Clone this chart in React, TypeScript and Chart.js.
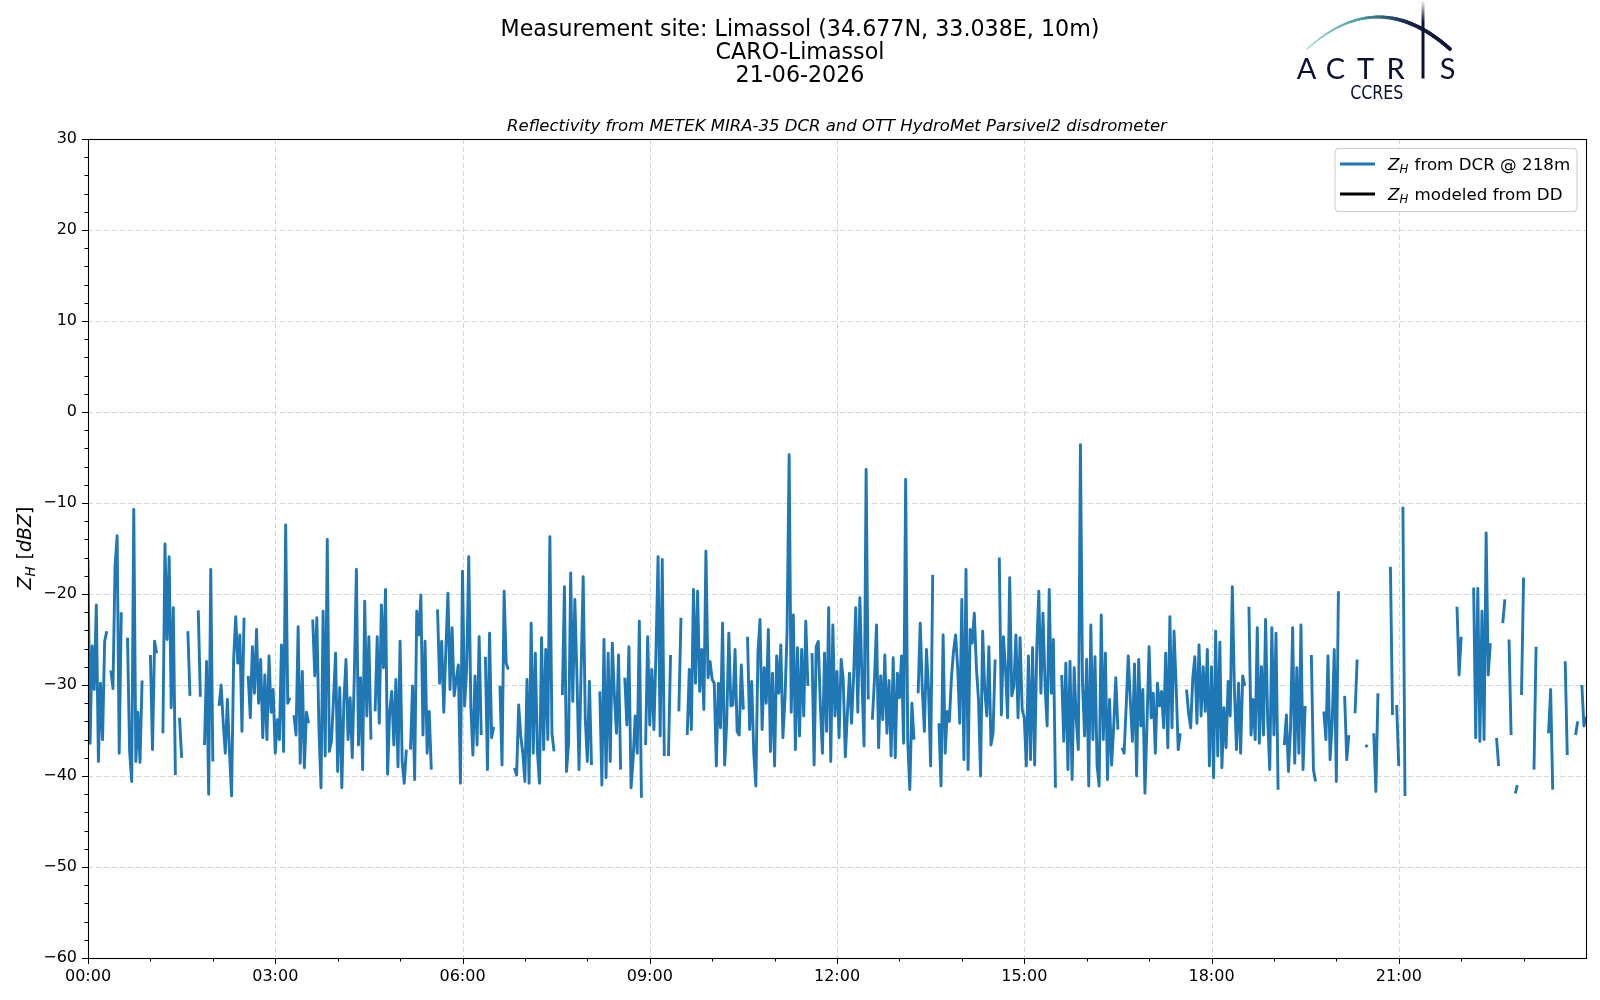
import { useEffect, useRef } from "react";
import { Chart, registerables } from "chart.js";

Chart.register(...registerables);

const TITLE_LINES = ["Measurement site: Limassol (34.677N, 33.038E, 10m)", "CARO-Limassol", "21-06-2026"];
const SUBTITLE = "Reflectivity from METEK MIRA-35 DCR and OTT HydroMet Parsivel2 disdrometer";

// time axis in minutes after 00:00
const STEP_MIN = 2;
const X_TICK_MIN = [0, 180, 360, 540, 720, 900, 1080, 1260];
const X_TICK_LABELS = ["00:00", "03:00", "06:00", "09:00", "12:00", "15:00", "18:00", "21:00"];
const Y_TICKS = [-60, -50, -40, -30, -20, -10, 0, 10, 20, 30];

const SERIES_LABELS = [" from DCR @ 218m", " modeled from DD"];
const SERIES_COLORS = ["#1f77b4", "#000000"];

// Z_H from DCR @ 218m [dBZ], one value every 2 min, null = no signal
const ZH_DCR: (number | null)[] = [
  -16.2, -36.4, -25.7, -30.5, -21.2, -38.4, -29.8, -36.0, -25.2, -24.1,
  null, -28.4, -30.4, -17.0, -13.6, -37.5, -22.0, null, null, -24.8,
  -37.3, -40.6, -10.7, -38.4, -33.0, -38.5, -29.5, null, null, null,
  -26.7, -37.1, -25.2, -26.5, null, null, -35.3, -14.5, -25.0, -15.9,
  -32.5, -21.5, -39.9, null, -33.6, -38.0, null, null, -24.1, -31.2,
  null, null, null, -21.8, -31.3, null, -36.6, -27.4, -42.0, -17.3,
  -38.4, null, null, -32.3, -30.0, -34.2, -37.5, -31.6, -37.3, -42.2,
  -27.2, -22.5, -27.6, -24.5, -35.1, -22.6, null, -29.0, -33.6, -25.8,
  -30.9, -23.9, -32.0, -27.2, -35.8, -28.9, -36.0, -26.8, -33.0, -30.5,
  -37.5, -33.8, -36.0, -25.6, -37.3, -12.4, -32.0, -31.4, null, -33.3,
  -35.5, -23.6, -38.6, -28.5, -39.1, -33.0, -34.2, null, -22.8, -29.0,
  -22.6, -34.9, -41.3, -21.9, -37.8, -14.0, -37.3, -36.2, -31.6, -26.5,
  -39.5, -30.3, -41.3, -31.8, -27.2, -36.0, -31.4, -38.0, -29.0, -17.3,
  -36.6, -29.2, -39.3, -20.8, -33.4, -24.7, -36.0, null, -32.9, -24.7,
  -34.2, -21.2, -28.1, -19.5, -39.8, -33.0, -30.7, -36.6, -29.4, -39.0,
  -25.2, -38.4, -40.8, -37.1, null, -37.1, -30.1, -40.4, -21.9, -24.5,
  -20.1, -35.5, -25.2, -37.5, -32.9, -39.3, null, null, -21.7, -29.8,
  -25.2, -33.0, -26.1, -19.9, -30.5, -23.7, -31.2, -29.4, -27.8, -40.8,
  -17.5, -32.3, -28.3, -15.9, -32.3, -37.7, -29.0, -36.6, -24.7, -35.5,
  null, -26.9, -39.3, -24.3, -35.8, -34.6, null, null, -30.1, -38.8,
  -19.7, -27.6, -28.3, null, null, -39.1, -39.9, -32.2, -35.6, -37.5,
  -40.6, -29.4, -40.8, -23.2, -37.5, -26.5, -37.3, -40.8, -24.8, -37.1,
  -26.1, -36.0, -13.7, -35.3, -37.3, null, null, null, -31.1, -19.2,
  -39.5, -36.4, -17.7, -31.8, -20.6, -29.0, -39.3, -28.5, -18.1, -33.6,
  -38.4, -29.6, -38.8, null, null, null, -30.7, -41.0, -25.0, -40.2,
  -26.5, -38.4, -25.4, -31.1, -35.3, -26.7, -39.3, null, -29.2, -34.4,
  -25.8, -41.3, -38.2, -33.4, -37.5, -23.0, -42.4, null, -36.6, -24.7,
  -34.4, -28.3, -34.9, -26.3, -15.9, -35.6, -16.2, -37.8, null, -37.8,
  -26.7, null, null, null, -32.9, -22.6, null, null, -35.5, -28.3,
  -34.9, -19.5, -29.8, -19.7, -30.7, -26.1, -32.7, -15.3, -29.2, -27.4,
  -29.4, -29.8, -38.9, -29.8, -34.7, -23.2, -38.8, -34.0, -24.3, -32.3,
  -32.2, -26.1, -35.1, -35.5, -27.8, -32.7, null, -24.7, -34.9, -29.6,
  -37.5, -41.1, -26.5, -22.8, -34.9, -28.1, -32.0, -23.9, -37.3, -28.7,
  -38.9, -26.8, -30.9, -25.6, -35.8, -31.5, -24.1, -4.7, -33.0, -22.3,
  -37.1, -25.9, -35.6, -26.1, -33.4, -23.0, -30.1, null, -26.5, -38.8,
  -25.8, -25.2, -32.3, -37.5, -26.5, -35.1, -21.5, -38.4, -23.4, -33.4,
  -28.5, -35.8, -27.2, -29.4, -37.9, -33.1, -28.7, -34.2, -29.0, -21.5,
  -33.0, -20.4, -29.4, -36.7, -6.3, -31.6, null, -33.8, -29.4, -23.4,
  -36.9, -29.0, -33.8, -26.7, -35.3, -29.5, -37.8, -27.0, -38.0, -28.7,
  -31.4, -26.8, -36.4, -7.4, -36.2, -41.5, -32.0, -36.0, null, -30.9,
  -23.2, -30.5, -35.1, -26.1, -30.5, -38.9, -17.9, null, null, -34.2,
  -41.1, -24.5, -37.5, -32.9, -34.0, -29.2, -26.3, -24.5, -28.1, -34.2,
  -20.6, -38.2, -17.3, -39.3, -23.9, -25.4, -22.1, -28.1, -31.6, -40.0,
  -24.1, -30.5, -33.4, -25.8, -36.6, -35.3, -27.2, null, -16.0, -33.3,
  -24.7, -28.3, -33.6, -18.2, -31.2, -30.1, -24.5, -33.6, -24.8, -32.7,
  -33.6, -38.9, -26.8, -38.2, -25.9, -38.8, -26.1, -19.7, -30.9, -22.1,
  -30.1, -34.5, -19.5, -30.9, -25.0, -41.3, null, null, -28.9, -36.2,
  -27.6, -39.3, -27.4, -40.4, -28.1, -33.8, -37.1, -3.6, -29.8, -35.6,
  -27.2, -41.1, -23.4, -36.0, -26.9, -38.8, -41.1, -22.3, -36.0, -26.5,
  -40.4, -31.6, -38.8, -34.5, -29.2, -34.9, null, -36.9, -37.5, -32.3,
  -26.8, -31.8, -36.2, -27.7, -40.0, -27.2, -34.5, -30.5, -41.9, -34.2,
  -25.8, -33.6, -30.9, -37.5, -29.8, -32.3, -30.7, -34.7, -26.5, -36.9,
  -22.5, -34.7, -24.1, -30.1, -37.1, -35.3, null, null, -30.5, -33.1,
  -34.7, -29.2, -26.9, -34.2, -25.6, -33.4, -28.0, -32.9, -26.1, -38.9,
  -28.0, -40.2, -24.1, -37.8, -25.3, -39.1, -32.5, -36.9, -29.6, -33.4,
  -19.2, -30.3, -37.1, -29.8, -37.5, -29.0, -30.1, null, -21.4, -35.5,
  -31.6, -36.0, -23.7, -36.4, -28.0, -35.5, -22.8, -33.8, -39.3, -23.7,
  -35.5, -24.3, -41.5, null, null, -36.6, -33.3, -39.5, -34.7, -23.7,
  -38.6, -28.1, -37.5, -23.4, -39.3, -32.3, null, null, -26.7, -39.3,
  -40.6, null, null, null, -32.9, -36.0, -26.8, -38.2, -34.2, -26.1,
  -40.6, -19.7, null, null, -31.2, -38.2, -35.5, null, null, -33.1,
  -27.2, null, null, null, -36.6, -36.8, null, null, -35.3, -41.7,
  -30.9, null, null, null, null, null, -17.0, -33.3, null, -32.2,
  -38.9, null, -10.4, -42.2, null, null, null, null, null, null,
  null, null, null, null, null, null, null, null, null, null,
  null, null, null, null, null, null, null, null, -21.4, -28.9,
  -24.7, null, null, null, null, null, -19.3, -35.8, -19.4, -36.2,
  -21.9, -36.0, -13.3, -28.9, -25.4, null, null, -35.8, -38.9, null,
  -23.2, -20.6, null, -25.0, -35.5, null, -41.9, -41.0, null, -31.1,
  -18.2, null, null, null, null, -39.3, -25.8, null, null, null,
  null, null, -35.3, -30.5, -41.5, null, null, null, null, null,
  -27.4, -37.7, null, null, null, -35.5, -34.0, null, -30.0, -34.5,
  -33.5,
];
// Z_H modeled from the disdrometer: no rain, nothing to plot
const ZH_DD: (number | null)[] = [];

const FONT = '"DejaVu Sans", sans-serif';

type Run = { t: string; it?: boolean; sub?: boolean };

function runFont(r: Run, size: number) {
  const s = r.sub ? size * 0.7 : size;
  return `${r.it ? "italic " : ""}${s}px ${FONT}`;
}

function runsWidth(ctx: CanvasRenderingContext2D, runs: Run[], size: number) {
  let w = 0;
  for (const r of runs) {
    ctx.font = runFont(r, size);
    w += ctx.measureText(r.t).width;
  }
  return w;
}

function drawRuns(ctx: CanvasRenderingContext2D, runs: Run[], x: number, y: number, size: number) {
  ctx.textAlign = "left";
  ctx.textBaseline = "alphabetic";
  for (const r of runs) {
    ctx.font = runFont(r, size);
    ctx.fillText(r.t, x, r.sub ? y + size * 0.22 : y);
    x += ctx.measureText(r.t).width + (r.sub ? 1 : 0);
  }
}

const crisp = (v: number) => Math.round(v) + 0.5;

const decorPlugin = {
  id: "decor",
  beforeDatasetsDraw(chart: any) {
    const { ctx, chartArea: a, scales } = chart;
    ctx.save();
    ctx.strokeStyle = "#d6d6d6";
    ctx.lineWidth = 1;
    ctx.setLineDash([5, 3]);
    for (const v of X_TICK_MIN) {
      const px = crisp(scales.x.getPixelForValue(v));
      ctx.beginPath();
      ctx.moveTo(px, a.top);
      ctx.lineTo(px, a.bottom);
      ctx.stroke();
    }
    for (const v of Y_TICKS) {
      const py = crisp(scales.y.getPixelForValue(v));
      ctx.beginPath();
      ctx.moveTo(a.left, py);
      ctx.lineTo(a.right, py);
      ctx.stroke();
    }
    ctx.restore();
  },
  afterDraw(chart: any) {
    const { ctx, chartArea: a, scales } = chart;
    ctx.save();

    // axes frame
    ctx.strokeStyle = "#000";
    ctx.lineWidth = 1.1;
    ctx.strokeRect(crisp(a.left), crisp(a.top), Math.round(a.right - a.left), Math.round(a.bottom - a.top));

    // ticks, major and minor
    ctx.lineWidth = 1;
    ctx.beginPath();
    for (let v = -60; v <= 30; v += 2) {
      const py = crisp(scales.y.getPixelForValue(v));
      const len = v % 10 === 0 ? 6 : 3.5;
      ctx.moveTo(a.left - len, py);
      ctx.lineTo(a.left, py);
    }
    for (let v = 0; v < 1440; v += 60) {
      const px = crisp(scales.x.getPixelForValue(v));
      const len = v % 180 === 0 ? 6 : 3.5;
      ctx.moveTo(px, a.bottom);
      ctx.lineTo(px, a.bottom + len);
    }
    ctx.stroke();

    // titles
    ctx.fillStyle = "#000";
    ctx.textAlign = "center";
    ctx.textBaseline = "alphabetic";
    ctx.font = `22.2px ${FONT}`;
    TITLE_LINES.forEach((t, i) => ctx.fillText(t, 800, 36 + i * 23));
    ctx.font = `italic 16.5px ${FONT}`;
    ctx.fillText(SUBTITLE, (a.left + a.right) / 2, 131);

    // y axis label
    ctx.save();
    ctx.translate(31, (a.top + a.bottom) / 2);
    ctx.rotate(-Math.PI / 2);
    const yRuns: Run[] = [{ t: "Z", it: true }, { t: "H", it: true, sub: true }, { t: " [" }, { t: "dBZ", it: true }, { t: "]" }];
    drawRuns(ctx, yRuns, -runsWidth(ctx, yRuns, 19) / 2, 0, 19);
    ctx.restore();

    // legend
    const lx = 1335, ly = 148.5, lw = 242, lh = 63;
    ctx.beginPath();
    ctx.roundRect(lx, ly, lw, lh, 4);
    ctx.fillStyle = "rgba(255,255,255,0.8)";
    ctx.fill();
    ctx.strokeStyle = "#cccccc";
    ctx.lineWidth = 1;
    ctx.stroke();
    SERIES_LABELS.forEach((lab, i) => {
      const yy = 164 + i * 30;
      ctx.strokeStyle = SERIES_COLORS[i];
      ctx.lineWidth = 2.9;
      ctx.beginPath();
      ctx.moveTo(1340, yy);
      ctx.lineTo(1375, yy);
      ctx.stroke();
      ctx.fillStyle = "#000";
      drawRuns(ctx, [{ t: "Z", it: true }, { t: "H", it: true, sub: true }, { t: lab }], 1388, yy + 5.8, 16.7);
    });

    // ACTRIS logo: tapered arc, mast through the I, letters
    const navy = "#0c1033";
    const g = ctx.createLinearGradient(1306, 0, 1452, 0);
    g.addColorStop(0, "#9adbd3");
    g.addColorStop(0.4, "#3d93a3");
    g.addColorStop(0.7, "#17244d");
    g.addColorStop(1, navy);
    ctx.strokeStyle = g;
    ctx.lineCap = "round";
    const P0 = [1307, 49], P1 = [1378, -15], P2 = [1450, 49];
    const bez = (t: number, k: number) => (1 - t) * (1 - t) * P0[k] + 2 * (1 - t) * t * P1[k] + t * t * P2[k];
    const N = 60;
    for (let s = 0; s < N; s++) {
      const t0 = s / N, t1 = (s + 1) / N;
      ctx.lineWidth = 1.2 + 2.6 * Math.min(1, t0 * 1.4);
      ctx.beginPath();
      ctx.moveTo(bez(t0, 0), bez(t0, 1));
      ctx.lineTo(bez(t1, 0), bez(t1, 1));
      ctx.stroke();
    }
    const gv = ctx.createLinearGradient(0, 0, 0, 22);
    gv.addColorStop(0, "rgba(12,16,51,0)");
    gv.addColorStop(1, navy);
    ctx.strokeStyle = gv;
    ctx.lineCap = "butt";
    ctx.lineWidth = 3;
    ctx.beginPath();
    ctx.moveTo(1423, 1);
    ctx.lineTo(1423, 78.5);
    ctx.stroke();
    ctx.fillStyle = navy;
    ctx.textAlign = "center";
    ctx.font = "400 29px Lato";
    const letters: [string, number][] = [["A", 1306.5], ["C", 1335.5], ["T", 1365.5], ["R", 1395.5], ["S", 1447.5]];
    for (const [ch, cx] of letters) ctx.fillText(ch, cx, 78.5);
    ctx.font = `19px ${FONT}`;
    const cw = ctx.measureText("CCRES").width;
    ctx.save();
    ctx.translate(1376.7, 99);
    ctx.scale(53 / cw, 1);
    ctx.fillText("CCRES", 0, 0);
    ctx.restore();

    ctx.restore();
  },
};

export default function App() {
  const canvasRef = useRef<HTMLCanvasElement>(null);
  const chartRef = useRef<Chart | null>(null);

  useEffect(() => {
    if (!canvasRef.current) return;
    if (chartRef.current) chartRef.current.destroy();

    const tickFont = { family: "DejaVu Sans", size: 16 };

    chartRef.current = new Chart(canvasRef.current, {
      type: "line",
      data: {
        datasets: [
          {
            label: SERIES_LABELS[0],
            data: ZH_DCR.map((v, i) => ({ x: i * STEP_MIN, y: v })),
            borderColor: SERIES_COLORS[0],
            backgroundColor: SERIES_COLORS[0],
            borderWidth: 2.9,
            borderJoinStyle: "round",
            tension: 0,
            spanGaps: false,
            pointBorderWidth: 0,
            pointHoverRadius: 0,
            pointRadius: (c: any) => {
              const i = c.dataIndex;
              if (ZH_DCR[i] == null) return 0;
              return ZH_DCR[i - 1] == null && ZH_DCR[i + 1] == null ? 1.5 : 0;
            },
          },
          {
            label: SERIES_LABELS[1],
            data: ZH_DD.map((v, i) => ({ x: i * STEP_MIN, y: v })),
            borderColor: SERIES_COLORS[1],
            borderWidth: 2.9,
            pointRadius: 0,
          },
        ],
      },
      options: {
        responsive: true,
        maintainAspectRatio: false,
        animation: false,
        events: [],
        layout: { padding: { top: 139, right: 14, bottom: 0, left: 0 } },
        plugins: {
          legend: { display: false },
          tooltip: { enabled: false },
        },
        scales: {
          x: {
            type: "linear",
            min: 0,
            max: 1440,
            grid: { display: false, drawTicks: false, tickLength: 0 },
            border: { display: false },
            afterBuildTicks: (s: any) => {
              s.ticks = X_TICK_MIN.map((v) => ({ value: v }));
            },
            afterFit: (s: any) => {
              s.height = 42;
            },
            ticks: {
              autoSkip: false,
              maxRotation: 0,
              padding: 9,
              color: "#000",
              font: tickFont,
              callback: (v: any) => X_TICK_LABELS[X_TICK_MIN.indexOf(Number(v))] ?? "",
            },
          },
          y: {
            type: "linear",
            min: -60,
            max: 30,
            grid: { display: false, drawTicks: false, tickLength: 0 },
            border: { display: false },
            afterBuildTicks: (s: any) => {
              s.ticks = Y_TICKS.map((v) => ({ value: v }));
            },
            afterFit: (s: any) => {
              s.width = 88;
            },
            ticks: {
              autoSkip: false,
              padding: 11,
              color: "#000",
              font: tickFont,
              callback: (v: any) => String(v).replace("-", "\u2212"),
            },
          },
        },
      },
      plugins: [decorPlugin],
    });

    return () => {
      if (chartRef.current) {
        chartRef.current.destroy();
        chartRef.current = null;
      }
    };
  }, []);

  return (
    <div style={{ position: "fixed", left: 0, top: 0, width: 1600, height: 1000, background: "#fff" }}>
      <canvas ref={canvasRef}></canvas>
    </div>
  );
}
